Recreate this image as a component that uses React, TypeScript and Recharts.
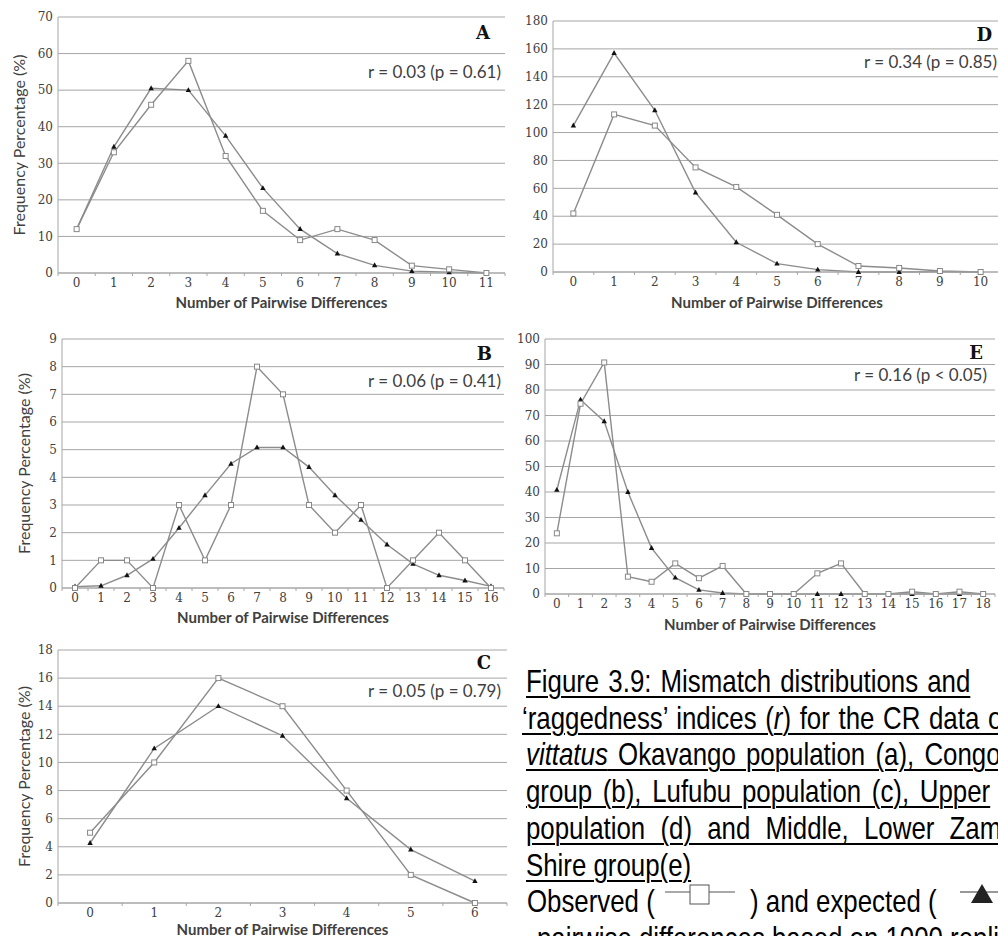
import React from 'react'
import { LineChart, Line, XAxis, YAxis, CartesianGrid, Label } from 'recharts'

// A - Okavango population
const diffsA = [0, 1, 2, 3, 4, 5, 6, 7, 8, 9, 10, 11]
const observedA = [12, 33, 46, 58, 32, 17, 9, 12, 9, 2, 1, 0]
const expectedA = [12, 34.5, 50.5, 50, 37.5, 23.2, 12, 5.3, 2.1, 0.5, 0.2, 0]
const yTicksA = [0, 10, 20, 30, 40, 50, 60, 70]

// D - Upper Zambezi population
const diffsD = [0, 1, 2, 3, 4, 5, 6, 7, 8, 9, 10]
const observedD = [42, 113, 105, 75, 61, 41, 20, 4.3, 2.9, 0.7, 0]
const expectedD = [105, 157, 116, 57, 21.3, 6, 1.7, 0, 0, 0.2, 0]
const yTicksD = [0, 20, 40, 60, 80, 100, 120, 140, 160, 180]

// B - Congo group
const diffsB = [0, 1, 2, 3, 4, 5, 6, 7, 8, 9, 10, 11, 12, 13, 14, 15, 16]
const observedB = [0, 1, 1, 0, 3, 1, 3, 8, 7, 3, 2, 3, 0, 1, 2, 1, 0]
const expectedB = [0.05, 0.08, 0.46, 1.05, 2.17, 3.35, 4.49, 5.08, 5.08, 4.37, 3.35, 2.46, 1.57, 0.87, 0.46, 0.27, 0.06]
const yTicksB = [0, 1, 2, 3, 4, 5, 6, 7, 8, 9]

// E - Middle, Lower Zambezi and Shire group
const diffsE = [0, 1, 2, 3, 4, 5, 6, 7, 8, 9, 10, 11, 12, 13, 14, 15, 16, 17, 18]
const observedE = [23.8, 74.6, 90.8, 6.8, 4.8, 12, 6.2, 11, 0, 0, 0, 8.1, 12, 0, 0, 0.9, 0, 0.9, 0]
const expectedE = [40.8, 76.2, 67.7, 40, 18, 6.4, 1.6, 0.4, 0, 0, 0, 0, 0, 0, 0, 0, 0, 0, 0]
const yTicksE = [0, 10, 20, 30, 40, 50, 60, 70, 80, 90, 100]

// C - Lufubu population
const diffsC = [0, 1, 2, 3, 4, 5, 6]
const observedC = [5, 10, 16, 14, 8, 2, 0]
const expectedC = [4.27, 11, 14, 11.9, 7.45, 3.8, 1.55]
const yTicksC = [0, 2, 4, 6, 8, 10, 12, 14, 16, 18]

const GRID = '#a6a6a6'
const LINE = '#8c8c8c'
const TEXT = '#404040'
const serif = "'DejaVu Serif', serif"
const sans = "Lato, 'Open Sans', sans-serif"
// no narrow font installed, so Liberation Sans gets squeezed to Arial Narrow width
const narrow = "'Liberation Sans', Arial, sans-serif"

function squareDot(props: any) {
  const { cx, cy, index } = props
  return <rect key={`sq-${index}`} x={cx - 2.5} y={cy - 2.5} width={5} height={5} fill="#fff" stroke="#888" strokeWidth={1} />
}

function triangleDot(props: any) {
  const { cx, cy, index } = props
  return <path key={`tr-${index}`} d={`M${cx},${cy - 3} L${cx + 2.7},${cy + 1.9} L${cx - 2.7},${cy + 1.9} Z`} fill="#111" />
}

function XTick(props: any) {
  const { x, y, payload } = props
  const v = payload.value
  if (Number.isInteger(v)) {
    return <text x={x} y={y + 14} textAnchor="middle" fontSize={12} fontFamily={serif} fill={TEXT}>{v}</text>
  }
  return <line x1={x} x2={x} y1={y} y2={y + 3} stroke={GRID} />
}

interface PanelProps {
  left: number
  top: number
  width: number
  height: number
  margin: { top: number; right: number; bottom: number; left: number }
  yWidth: number
  xHeight: number
  xTitleOffset: number
  yLabelOffset?: number
  diffs: number[]
  observed: number[]
  expected: number[]
  yTicks: number[]
}

function Panel(p: PanelProps) {
  const rows = p.diffs.map((d, i) => ({ d, observed: p.observed[i], expected: p.expected[i] }))
  const last = p.diffs[p.diffs.length - 1]
  const xTicks: number[] = []
  p.diffs.forEach((d) => xTicks.push(d - 0.5, d))
  xTicks.push(last + 0.5)
  const yMax = p.yTicks[p.yTicks.length - 1]

  return (
    <div style={{ position: 'absolute', left: p.left, top: p.top }}>
      <LineChart width={p.width} height={p.height} data={rows} margin={p.margin}>
        <CartesianGrid vertical={false} stroke={GRID} />
        <XAxis
          type="number"
          dataKey="d"
          domain={[-0.5, last + 0.5]}
          ticks={xTicks}
          interval={0}
          tickLine={false}
          tickSize={0}
          tickMargin={0}
          axisLine={{ stroke: GRID }}
          tick={<XTick />}
          height={p.xHeight}
        >
          <Label value="Number of Pairwise Differences" position="insideBottom" offset={p.xTitleOffset}
            fontSize={15} fontFamily={sans} fontWeight={700} fill={TEXT} />
        </XAxis>
        <YAxis
          type="number"
          domain={[0, yMax]}
          ticks={p.yTicks}
          interval={0}
          tickLine={false}
          tickSize={0}
          tickMargin={5}
          axisLine={{ stroke: GRID }}
          tick={{ fontSize: 12, fontFamily: serif, fill: TEXT }}
          width={p.yWidth}
        >
          {p.yLabelOffset != null && (
            <Label value="Frequency Percentage (%)" angle={-90} position="insideLeft" offset={p.yLabelOffset}
              fontSize={16} fontFamily={sans} fill={TEXT} style={{ textAnchor: 'middle' }} />
          )}
        </YAxis>
        <YAxis yAxisId="frame" orientation="right" width={0} domain={[0, yMax]} tick={false} tickLine={false} axisLine={{ stroke: '#cfcfcf' }} />
        <Line type="linear" dataKey="expected" stroke={LINE} strokeWidth={1.4} dot={triangleDot} activeDot={false} isAnimationActive={false} />
        <Line type="linear" dataKey="observed" stroke={LINE} strokeWidth={1.4} dot={squareDot} activeDot={false} isAnimationActive={false} />
      </LineChart>
    </div>
  )
}

function Tag({ right, cy, children, bold }: { right: number; cy: number; children: React.ReactNode; bold?: boolean }) {
  return (
    <div style={{
      position: 'absolute', right: 998 - right, top: cy - 12, height: 24, lineHeight: '24px', whiteSpace: 'nowrap',
      fontFamily: bold ? serif : sans, fontWeight: bold ? 700 : 400, fontSize: bold ? 18 : 17, color: bold ? '#111' : TEXT,
    }}>{children}</div>
  )
}

const capLine: React.CSSProperties = {
  position: 'absolute', whiteSpace: 'nowrap', fontFamily: narrow, fontSize: 31.5, lineHeight: '36.7px', height: 36.7,
  color: '#000', textDecoration: 'underline', textDecorationThickness: '2px', textUnderlineOffset: '4px',
  transform: 'scaleX(0.82)', transformOrigin: 'left top',
}

export default function App() {
  return (
    <div style={{ position: 'absolute', left: 0, top: 0, width: 998, height: 936, overflow: 'hidden', background: '#fff' }}>
      <Panel left={0} top={0} width={510} height={310} margin={{ top: 17, right: 5, bottom: 0, left: 0 }}
        yWidth={58} xHeight={37} xTitleOffset={2} yLabelOffset={19}
        diffs={diffsA} observed={observedA} expected={expectedA} yTicks={yTicksA} />
      <Panel left={510} top={0} width={491} height={310} margin={{ top: 21, right: 0, bottom: 0, left: 0 }}
        yWidth={43} xHeight={38} xTitleOffset={2}
        diffs={diffsD} observed={observedD} expected={expectedD} yTicks={yTicksD} />
      <Panel left={0} top={310} width={510} height={315} margin={{ top: 29, right: 6, bottom: 0, left: 0 }}
        yWidth={62} xHeight={37} xTitleOffset={2} yLabelOffset={24}
        diffs={diffsB} observed={observedB} expected={expectedB} yTicks={yTicksB} />
      <Panel left={510} top={310} width={490} height={322} margin={{ top: 29, right: 5, bottom: 0, left: 0 }}
        yWidth={35} xHeight={38} xTitleOffset={2}
        diffs={diffsE} observed={observedE} expected={expectedE} yTicks={yTicksE} />
      <Panel left={0} top={625} width={510} height={311} margin={{ top: 25, right: 3, bottom: 0, left: 0 }}
        yWidth={58} xHeight={33} xTitleOffset={1} yLabelOffset={24}
        diffs={diffsC} observed={observedC} expected={expectedC} yTicks={yTicksC} />

      <Tag right={490} cy={33} bold>A</Tag>
      <Tag right={501} cy={72}>r = 0.03 (p = 0.61)</Tag>
      <Tag right={992} cy={35} bold>D</Tag>
      <Tag right={997} cy={62}>r = 0.34 (p = 0.85)</Tag>
      <Tag right={492} cy={354} bold>B</Tag>
      <Tag right={501} cy={381}>r = 0.06 (p = 0.41)</Tag>
      <Tag right={983} cy={353} bold>E</Tag>
      <Tag right={987} cy={375}>r = 0.16 (p &lt; 0.05)</Tag>
      <Tag right={491} cy={663} bold>C</Tag>
      <Tag right={501} cy={691}>r = 0.05 (p = 0.79)</Tag>

      <div style={{ ...capLine, left: 526, top: 663, wordSpacing: 2.4 }}>Figure 3.9: Mismatch distributions and</div>
      <div style={{ ...capLine, left: 522, top: 699.7, wordSpacing: 1.8 }}>‘raggedness’ indices (<i>r</i>) for the CR data of</div>
      <div style={{ ...capLine, left: 526, top: 736.4, wordSpacing: 3.7 }}><i>vittatus</i> Okavango population (a), Congo</div>
      <div style={{ ...capLine, left: 526, top: 773.1, wordSpacing: 4.3 }}>group (b), Lufubu population (c), Upper</div>
      <div style={{ ...capLine, left: 526, top: 809.8, wordSpacing: 9.8 }}>population (d) and Middle, Lower Zambezi</div>
      <div style={{ ...capLine, left: 526, top: 846.5 }}>Shire group(e)</div>
      <div style={{ ...capLine, left: 527, top: 883.2, textDecoration: 'none' }}>Observed (</div>
      <svg style={{ position: 'absolute', left: 660, top: 878 }} width={80} height={30}>
        <line x1={5} x2={75} y1={14} y2={14} stroke="#555" strokeWidth={1} />
        <rect x={30} y={7} width={19} height={19} fill="#fff" stroke="#555" strokeWidth={1} />
      </svg>
      <div style={{ ...capLine, left: 750, top: 883.2, textDecoration: 'none' }}>) and expected (</div>
      <svg style={{ position: 'absolute', left: 955, top: 878 }} width={60} height={30}>
        <line x1={5} x2={60} y1={14} y2={14} stroke="#333" strokeWidth={1} />
        <path d="M27,6 L38,25 L16,25 Z" fill="#222" />
      </svg>
      <div style={{ ...capLine, left: 537, top: 919.9, textDecoration: 'none' }}>pairwise differences based on 1000 replicates</div>
    </div>
  )
}
